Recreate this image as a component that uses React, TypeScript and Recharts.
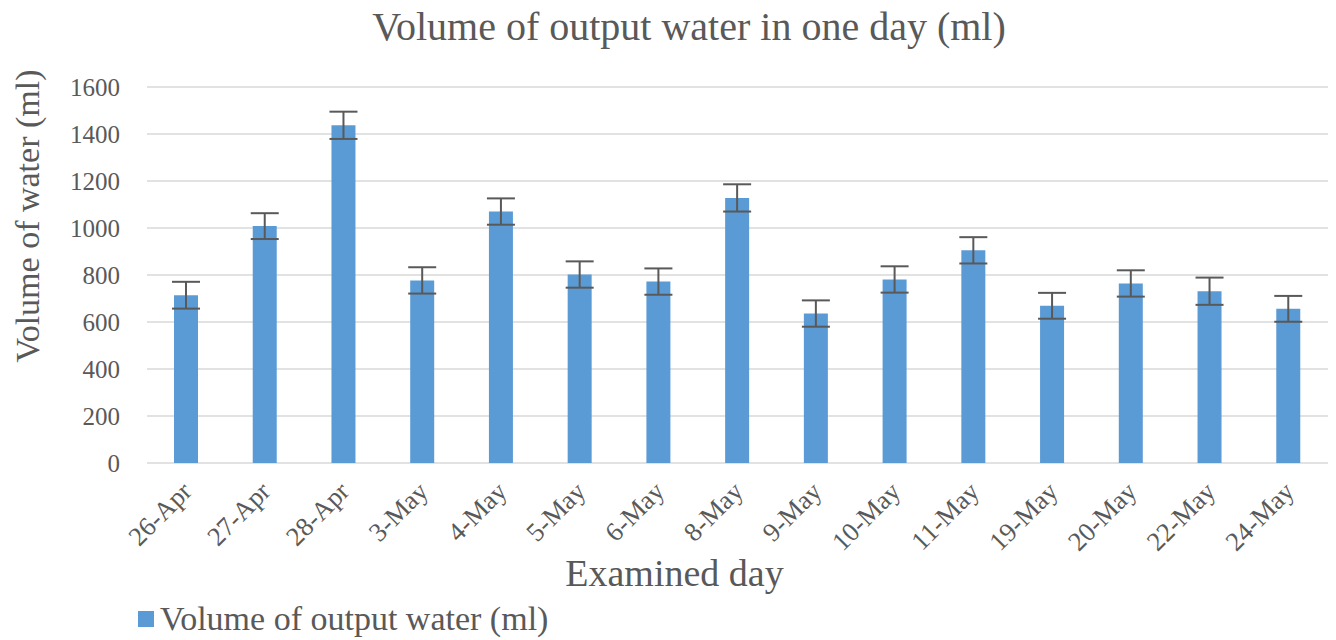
import React from 'react';
import { BarChart, Bar, XAxis, YAxis, CartesianGrid, ErrorBar, Legend, Label } from 'recharts';

const days = ['26-Apr', '27-Apr', '28-Apr', '3-May', '4-May', '5-May', '6-May', '8-May', '9-May', '10-May', '11-May', '19-May', '20-May', '22-May', '24-May'];
const volumes = [714, 1008, 1437, 777, 1070, 802, 772, 1128, 636, 781, 905, 669, 764, 731, 656];
const errors = [57, 55, 58, 56, 56, 56, 56, 58, 56, 56, 56, 55, 56, 58, 55];
const yTicks = [0, 200, 400, 600, 800, 1000, 1200, 1400, 1600];
const edgeTicks = days.map((_, i) => i).concat(days.length);

const data = days.map((day, i) => ({ day, volume: volumes[i], err: errors[i] }));

const FONT = "'Liberation Serif', 'Times New Roman', serif";
const GREY = '#595959';

// rotated date labels, anchored at their right end
const DayTick = ({ x, y, payload }: any) => (
    <text
        x={x + 7}
        y={y + 22}
        transform={`rotate(-45 ${x + 7} ${y + 22})`}
        textAnchor="end"
        fontSize={26.5}
        style={{ fontFamily: FONT }}
        fill={GREY}
    >
        {payload.value}
    </text>
);

const LegendBox = ({ payload }: any) => (
    <div style={{ display: 'flex', alignItems: 'center', fontFamily: FONT, fontSize: 34, color: GREY }}>
        {(payload || []).map((p: any) => (
            <span key={p.value} style={{ display: 'flex', alignItems: 'center' }}>
                <span style={{ width: 16, height: 16, background: '#5b9bd5', marginRight: 6, display: 'inline-block' }}></span>
                {p.value}
            </span>
        ))}
    </div>
);

export default function App() {
    return (
        <div style={{ position: 'absolute', left: 0, top: 0, width: 1336, height: 640, background: '#fff', fontFamily: FONT }}>
            <div style={{ position: 'absolute', top: 3, left: 0, width: 1378, textAlign: 'center', fontFamily: FONT, fontSize: 40, color: GREY }}>
                Volume of output water in one day (ml)
            </div>
            <BarChart width={1336} height={640} data={data} margin={{ top: 87, right: 8, left: 0, bottom: 0 }} style={{ fontFamily: FONT }}>
                <CartesianGrid vertical={false} stroke="#d9d9d9" strokeWidth={1.5} />
                <XAxis
                    xAxisId="edges"
                    type="number"
                    domain={[0, days.length]}
                    ticks={edgeTicks}
                    tick={false}
                    tickLine={{ stroke: '#d9d9d9', strokeWidth: 1.5 }}
                    tickSize={7}
                    axisLine={{ stroke: '#d9d9d9', strokeWidth: 1.5 }}
                    height={0}
                />
                <XAxis
                    dataKey="day"
                    interval={0}
                    axisLine={false}
                    tickLine={false}
                    tick={<DayTick />}
                    height={137}
                >
                    <Label
                        content={({ viewBox }: any) => (
                            <text
                                x={viewBox.x + viewBox.width / 2 - 63}
                                y={viewBox.y + 123}
                                textAnchor="middle"
                                fontSize={38}
                                style={{ fontFamily: FONT }}
                                fill={GREY}
                            >
                                Examined day
                            </text>
                        )}
                    />
                </XAxis>
                <YAxis
                    domain={[0, 1600]}
                    ticks={yTicks}
                    axisLine={false}
                    tickLine={false}
                    tickMargin={21}
                    width={147}
                    tick={{ fontSize: 25, fill: GREY, style: { fontFamily: FONT } }}
                >
                    <Label
                        content={({ viewBox }: any) => {
                            const cx = viewBox.x + 39;
                            const cy = viewBox.y + viewBox.height / 2 - 59;
                            return (
                                <text
                                    x={cx}
                                    y={cy}
                                    transform={`rotate(-90 ${cx} ${cy})`}
                                    textAnchor="middle"
                                    fontSize={34}
                                    style={{ fontFamily: FONT }}
                                    fill={GREY}
                                >
                                    Volume of water (ml)
                                </text>
                            );
                        }}
                    />
                </YAxis>
                <Legend
                    verticalAlign="bottom"
                    align="left"
                    height={40}
                    content={<LegendBox />}
                    wrapperStyle={{ left: 138, bottom: 0, width: 'auto' }}
                />
                <Bar dataKey="volume" name="Volume of output water (ml)" fill="#5b9bd5" barSize={24} isAnimationActive={false}>
                    <ErrorBar dataKey="err" width={14} stroke="#595959" strokeWidth={2} direction="y" />
                </Bar>
            </BarChart>
        </div>
    );
}
